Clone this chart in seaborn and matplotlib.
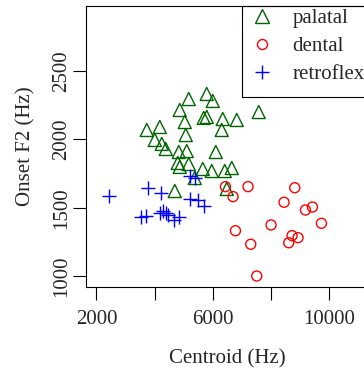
import matplotlib
matplotlib.use("Agg")
import matplotlib.pyplot as plt
from matplotlib.lines import Line2D
from matplotlib.patches import Rectangle
import seaborn as sns
import pandas as pd

# ---- data ----
palatal_x = [5174, 5793, 6000, 4865, 7581, 5793, 5690, 5037, 6343, 6825,
             3730, 4177, 6309, 5071, 4005, 4246, 4383, 4830, 5105, 6103,
             4796, 4865, 5174, 5656, 5965, 6412, 6653, 5381, 4693, 6481]
palatal_y = [2295, 2332, 2281, 2215, 2200, 2164, 2157, 2127, 2149, 2142,
             2069, 2091, 2069, 2032, 1996, 1967, 1930, 1908, 1915, 1908,
             1828, 1799, 1820, 1784, 1769, 1769, 1791, 1718, 1623, 1638]

dental_x = [6436, 7214, 6698, 8820, 8452, 9188, 9428, 9738, 8005, 6780,
            7306, 8727, 8933, 8613, 7513]
dental_y = [1655, 1655, 1582, 1647, 1541, 1484, 1506, 1387, 1375, 1333,
            1234, 1297, 1282, 1245, 1002]

retroflex_x = [2433, 3775, 4235, 3548, 3713, 4290, 4383, 4462, 4658, 4830,
               5209, 5381, 5209, 5501, 5690, 4194]
retroflex_y = [1587, 1643, 1606, 1433, 1441, 1479, 1462, 1448, 1411, 1430,
               1733, 1715, 1563, 1557, 1514, 1466]

categories = ["palatal", "dental", "retroflex"]
colors = {"palatal": "#006400", "dental": "#FF0000", "retroflex": "#0000FF"}

x_ticks = [2000, 4000, 6000, 8000, 10000]
x_tick_labels = ["2000", "", "6000", "", "10000"]
y_ticks = [1000, 1500, 2000, 2500]
y_tick_labels = ["1000", "1500", "2000", "2500"]

df = pd.concat([
    pd.DataFrame({"Centroid": palatal_x, "F2": palatal_y, "place": "palatal"}),
    pd.DataFrame({"Centroid": dental_x, "F2": dental_y, "place": "dental"}),
    pd.DataFrame({"Centroid": retroflex_x, "F2": retroflex_y, "place": "retroflex"}),
], ignore_index=True)

# ---- style ----
sns.set_theme(style="white")
plt.rcParams["font.family"] = ["Liberation Serif", "DejaVu Serif"]
plt.rcParams["axes.linewidth"] = 0.8
plt.rcParams["axes.edgecolor"] = "black"

fig = plt.figure(figsize=(3.64, 3.72), dpi=100)
ax = fig.add_axes([86 / 364, 85.3 / 372, 282.6 / 364, 280.9 / 372])

marker_specs = {
    "palatal": dict(marker="^", s=88, facecolors="none", edgecolor=colors["palatal"], linewidth=1.0),
    "dental": dict(marker="o", s=52, facecolors="none", edgecolor=colors["dental"], linewidth=1.0),
    "retroflex": dict(marker="+", s=95, linewidth=1.0),
}
for cat in categories:
    sub = df[df["place"] == cat]
    sns.scatterplot(data=sub, x="Centroid", y="F2", color=colors[cat], ax=ax,
                    legend=False, **marker_specs[cat])

ax.set_xlim(1640, 11360)
ax.set_ylim(924, 2976)
ax.set_xticks(x_ticks)
ax.set_xticklabels(x_tick_labels, fontsize=15)
ax.set_yticks(y_ticks)
ax.set_yticklabels(y_tick_labels, fontsize=15, rotation=90, va="center")
ax.tick_params(axis="x", direction="out", length=9.5, width=0.8, pad=7.5, color="black", bottom=True)
ax.tick_params(axis="y", direction="out", length=9.5, width=0.8, pad=1, color="black", left=True)
for sp in ax.spines.values():
    sp.set_visible(True)
    sp.set_color("black")
    sp.set_linewidth(0.8)

ax.set_xlabel("Centroid (Hz)", fontsize=15)
ax.set_ylabel("Onset F2 (Hz)", fontsize=15)
ax.xaxis.set_label_coords(0.5, -0.222)
ax.yaxis.set_label_coords(-0.178, 0.5)

# ---- legend ----
handles = [
    Line2D([], [], linestyle="none", marker="^", markersize=9.4, markerfacecolor="none",
           markeredgecolor=colors["palatal"], markeredgewidth=1.0, label="palatal"),
    Line2D([], [], linestyle="none", marker="o", markersize=7.2, markerfacecolor="none",
           markeredgecolor=colors["dental"], markeredgewidth=1.0, label="dental"),
    Line2D([], [], linestyle="none", marker="+", markersize=9.7,
           markeredgecolor=colors["retroflex"], markeredgewidth=1.0, label="retroflex"),
]
ax.legend(handles=handles, loc="upper left", bbox_to_anchor=(0.587, 0.989),
          frameon=False, fontsize=15, borderpad=0, handlelength=1.0,
          handletextpad=0.96, labelspacing=0.39, borderaxespad=0)
ax.add_patch(Rectangle((0.553, 0.6764), 0.447, 0.3236, transform=ax.transAxes,
                       fill=False, edgecolor="black", linewidth=0.8, clip_on=False))

fig.savefig("out.png", dpi=100)
